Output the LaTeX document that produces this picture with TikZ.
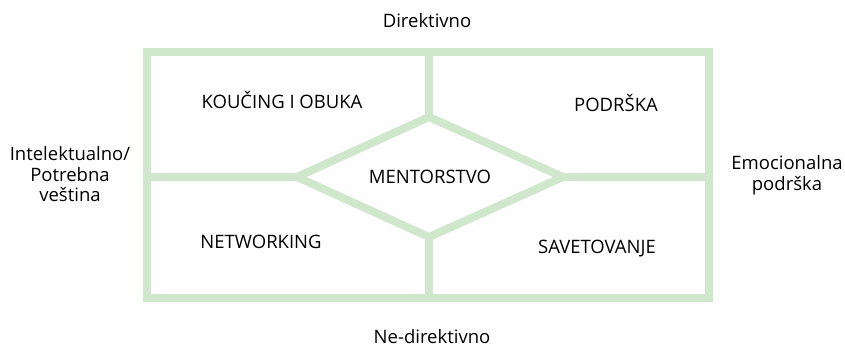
\documentclass[tikz,border=0pt]{standalone}
\usepackage{fontspec}
\setmainfont{Open Sans}
\usepackage{tikz}
\definecolor{frame}{RGB}{207,232,204}

\begin{document}
\begin{tikzpicture}[x=1pt,y=-1pt,
		bar/.style={draw=frame, line width=8pt},
		lbl/.style={font=\fontsize{18.5}{20.5}\selectfont, inner sep=0pt}]
			\useasboundingbox (0,0) rectangle (845,347);
			
			\coordinate (nw) at (147,52);
			\coordinate (se) at (709,298);
			\coordinate (top) at (429,52);
			\coordinate (bot) at (429,298);
			\coordinate (lft) at (147,177);
			\coordinate (rgt) at (709,177);
			\coordinate (dt) at (429,117);
			\coordinate (db) at (429,237);
			\coordinate (dl) at (297,177);
			\coordinate (dr) at (563,177);
			
			\draw[bar] (nw) rectangle (se);
			\draw[bar] (top) -- (dt);
			\draw[bar] (db) -- (bot);
			\draw[bar] (lft) -- (dl);
			\draw[bar] (dr) -- (rgt);
			\draw[bar] (dt) -- (dr) -- (db) -- (dl) -- cycle;
			
			\node[lbl, anchor=base] (dir) at (427,27.3) {Direktivno};
			\node[lbl, anchor=base] (nedir) at (432,343) {Ne-direktivno};
			\node[lbl, anchor=base] (coach) at (282,109) {KOUČING I OBUKA};
			\node[lbl, anchor=base] (support) at (616,112) {PODRŠKA};
			\node[lbl, anchor=base] (mentor) at (430,184) {MENTORSTVO};
			\node[lbl, anchor=base] (netw) at (261,248) {NETWORKING};
			\node[lbl, anchor=base] (advice) at (597,253) {SAVETOVANJE};
			\node[lbl, align=center] (intel) at (70,174.5) {Intelektualno/\\Potrebna\\veština};
			\node[lbl, align=center] (emo) at (787,175.3) {Emocionalna\\podrška};
		\end{tikzpicture}
\end{document}
